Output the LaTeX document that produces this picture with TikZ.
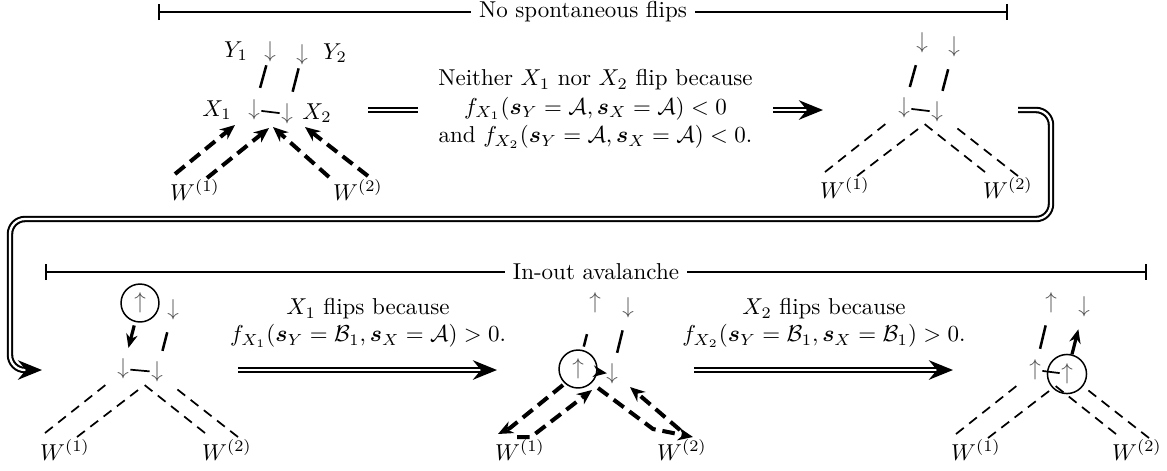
\documentclass[tikz,border=0pt]{standalone}
\usepackage{amsmath}
\usepackage{bm}
\usetikzlibrary{arrows.meta}
\newcommand{\wthin}[1]{%
  \coordinate (#1a0) at (-95,62); \coordinate (#1a1) at (-32,12);
  \coordinate (#1b0) at (-63,66); \coordinate (#1b1) at (2,16);
  \coordinate (#1c0) at (65,62);  \coordinate (#1c1) at (2,12);
  \coordinate (#1d0) at (98,66);  \coordinate (#1d1) at (33,15);
  \draw[thindash] (#1a0) -- (#1a1);
  \draw[thindash] (#1b0) -- (#1b1);
  \draw[thindash] (#1c0) -- (#1c1);
  \draw[thindash] (#1d0) -- (#1d1);}
\begin{document}
\begin{tikzpicture}[x=0.435pt,y=-0.435pt,
  glyph/.style={inner sep=0.5pt, text=black!68},
  lbl/.style={inner sep=1pt},
  ring/.style={circle, draw, line width=0.65pt, minimum size=16.5pt, inner sep=0pt},
  thindash/.style={line width=0.75pt, dash pattern=on 4.3pt off 3pt},
  thickdash/.style={line width=1.75pt, dash pattern=on 5.5pt off 3pt, -{Stealth[length=6.5pt,width=5.5pt]}},
  ydash/.style={line width=1.1pt, shorten <=10pt, shorten >=9.5pt},
  junction/.style={line width=0.75pt},
  boldarrow/.style={line width=1.4pt, -{Stealth[length=6pt,width=5pt]}},
  dbl/.style={double, double distance=1pt, line width=0.9pt},
  dblarrow/.style={dbl, -{Stealth[length=10.5pt,width=8.5pt,inset=3.5pt]}},
  bracket/.style={line width=0.7pt, {Bar[width=7pt]}-{Bar[width=7pt]}},
  blabel/.style={fill=white, inner xsep=3.5pt, inner ysep=1pt},
  explain/.style={align=center, font=\fontsize{10}{11.6}\selectfont}
]
\useasboundingbox (0,0) rectangle (1167,470);

% brackets
\coordinate (b1l) at (158,12); \coordinate (b1r) at (1008,12);
\draw[bracket] (b1l) -- node[blabel] (b1t) {No spontaneous flips} (b1r);
\coordinate (b2l) at (45,272); \coordinate (b2r) at (1147,272);
\draw[bracket] (b2l) -- node[blabel] (b2t) {In-out avalanche} (b2r);

% top transition
\coordinate (a1s) at (368,110); \coordinate (a1e) at (823,110);
\draw[dblarrow] (a1s) -- node[explain, font=\fontsize{10}{12.4}\selectfont, fill=white, inner xsep=9pt, inner ysep=1pt, yshift=0.5pt] (t1)
  {Neither $X_1$ nor $X_2$ flip because\\
   $f_{X_1}(\bm{s}_Y=\mathcal{A},\bm{s}_X=\mathcal{A})<0$\\
   and $f_{X_2}(\bm{s}_Y=\mathcal{A},\bm{s}_X=\mathcal{A})<0$.} (a1e);

% loop connector
\coordinate (ls) at (1018,110); \coordinate (le) at (42,370);
\draw[dblarrow, rounded corners=6.5pt] (ls) -- ++(33,0) -- ++(0,109) -- ++(-1041,0) -- ++(0,151) -- (le);

% bottom transitions
\coordinate (a2s) at (238,370); \coordinate (a2e) at (497,370);
\draw[dblarrow] (a2s) -- (a2e);
\node[explain] (t2) at (368,323)
  {$X_1$ flips because\\ $f_{X_1}(\bm{s}_Y=\mathcal{B}_1,\bm{s}_X=\mathcal{A})>0$.};
\coordinate (a3s) at (694,370); \coordinate (a3e) at (953,370);
\draw[dblarrow] (a3s) -- (a3e);
\node[explain] (t3) at (824,323)
  {$X_2$ flips because\\ $f_{X_2}(\bm{s}_Y=\mathcal{B}_1,\bm{s}_X=\mathcal{B}_1)>0$.};

% ---------- graph 1
\begin{scope}[shift={(270,112)}]
  \node[glyph] (g1y1) at (0,-60) {$\downarrow$};
  \node[glyph] (g1y2) at (32,-57) {$\downarrow$};
  \node[glyph] (g1x1) at (-16,-2) {$\downarrow$};
  \node[glyph] (g1x2) at (17,2) {$\downarrow$};
  \node[lbl] (g1ly1) at (-34,-61) {$Y_1$};
  \node[lbl] (g1ly2) at (65,-59) {$Y_2$};
  \node[lbl] (g1lx1) at (-53,-2) {$X_1$};
  \node[lbl] (g1lx2) at (47,1) {$X_2$};
  \node[lbl] (g1w1) at (-75,78) {$W^{(1)}$};
  \node[lbl] (g1w2) at (88,78) {$W^{(2)}$};
  \draw[ydash, shorten <=6pt, shorten >=10pt] (g1y1.center) -- (g1x1.center);
  \draw[ydash, shorten <=6pt, shorten >=10pt] (g1y2.center) -- (g1x2.center);
  \draw[junction] (g1x1) -- (g1x2);
  \coordinate (g1a0) at (-95,62); \coordinate (g1a1) at (-35,13);
  \coordinate (g1b0) at (-63,66); \coordinate (g1b1) at (-1,16);
  \coordinate (g1c0) at (59,65);  \coordinate (g1c1) at (3,15);
  \coordinate (g1d0) at (98,64);  \coordinate (g1d1) at (35,15);
  \draw[thickdash] (g1a0) -- (g1a1);
  \draw[thickdash] (g1b0) -- (g1b1);
  \draw[thickdash] (g1c0) -- (g1c1);
  \draw[thickdash] (g1d0) -- (g1d1);
\end{scope}

% ---------- graph 2
\begin{scope}[shift={(920,110)}]
  \node[glyph] (g2y1) at (2,-67) {$\downarrow$};
  \node[glyph] (g2y2) at (34,-63) {$\downarrow$};
  \node[glyph] (g2x1) at (-16,-2) {$\downarrow$};
  \node[glyph] (g2x2) at (17,2) {$\downarrow$};
  \node[lbl] (g2w1) at (-75,78) {$W^{(1)}$};
  \node[lbl] (g2w2) at (88,78) {$W^{(2)}$};
  \draw[ydash] (g2y1.center) -- (g2x1.center);
  \draw[ydash] (g2y2.center) -- (g2x2.center);
  \draw[junction] (g2x1) -- (g2x2);
  \wthin{g2}
\end{scope}

% ---------- graph 3
\begin{scope}[shift={(140,371)}]
  \node[glyph] (g3y1) at (0,-68) {$\uparrow$};
  \node[ring] (g3c) at (g3y1) {};
  \node[glyph] (g3y2) at (33,-61) {$\downarrow$};
  \node[glyph] (g3x1) at (-17,-2) {$\downarrow$};
  \node[glyph] (g3x2) at (17,1) {$\downarrow$};
  \node[lbl] (g3w1) at (-75,79) {$W^{(1)}$};
  \node[lbl] (g3w2) at (87,79) {$W^{(2)}$};
  \draw[boldarrow, shorten <=1.5pt, shorten >=9.5pt] (g3c) -- (g3x1.center);
  \draw[ydash] (g3y2.center) -- (g3x2.center);
  \draw[junction] (g3x1) -- (g3x2);
  \wthin{g3}
\end{scope}

% ---------- graph 4
\begin{scope}[shift={(595,371)}]
  \node[glyph] (g4y1) at (0,-68) {$\uparrow$};
  \node[glyph] (g4y2) at (33,-63) {$\downarrow$};
  \node[glyph] (g4x1) at (-17,-2) {$\uparrow$};
  \node[ring] (g4c) at (g4x1) {};
  \node[glyph] (g4x2) at (17,3) {$\downarrow$};
  \node[lbl] (g4w1) at (-75,79) {$W^{(1)}$};
  \node[lbl] (g4w2) at (87,79) {$W^{(2)}$};
  \draw[ydash, shorten <=14pt, shorten >=1.5pt] (g4y1.center) -- (g4c);
  \draw[ydash] (g4y2.center) -- (g4x2.center);
  \draw[boldarrow, line width=1pt, shorten >=-1pt] (g4c) -- (g4x2);
  \coordinate (g4a0) at (-32,14); \coordinate (g4a1) at (-97,63);
  \coordinate (g4b0) at (-78,66); \coordinate (g4b1) at (-3,19);
  \coordinate (g4c0) at (3,17);  \coordinate (g4c1) at (98,66);
  \coordinate (g4d0) at (85,59); \coordinate (g4d1) at (35,16);
  \draw[thickdash] (g4a0) -- (-85,57) -- (g4a1);
  \draw[thickdash] (g4b0) -- (-64,66) -- (g4b1);
  \draw[thickdash] (g4c0) -- (58,58) -- (g4c1);
  \draw[thickdash] (g4d0) -- (g4d1);
\end{scope}

% ---------- graph 5
\begin{scope}[shift={(1051,372)}]
  \node[glyph] (g5y1) at (0,-69) {$\uparrow$};
  \node[glyph] (g5y2) at (33,-65) {$\downarrow$};
  \node[glyph] (g5x1) at (-16,-2) {$\uparrow$};
  \node[glyph] (g5x2) at (16,2) {$\uparrow$};
  \node[ring, minimum size=17pt] (g5c) at (g5x2) {};
  \node[lbl] (g5w1) at (-75,78) {$W^{(1)}$};
  \node[lbl] (g5w2) at (86,78) {$W^{(2)}$};
  \draw[ydash] (g5y1.center) -- (g5x1.center);
  \draw[junction] (g5x1) -- (g5x2);
  \draw[boldarrow, shorten >=10pt] (g5c) -- (g5y2.center);
  \wthin{g5}
\end{scope}
\end{tikzpicture}
\end{document}
